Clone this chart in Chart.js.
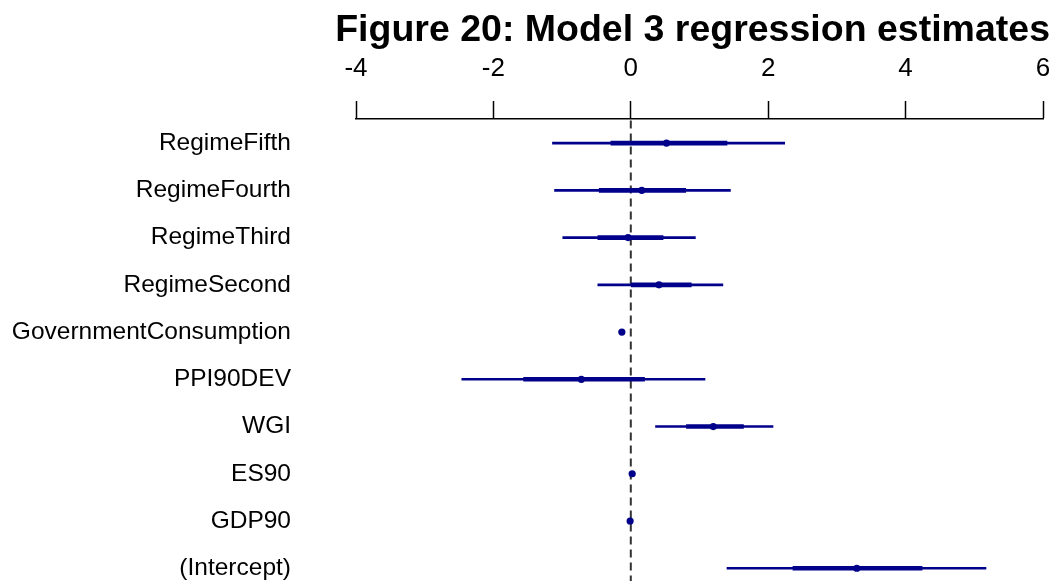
<!DOCTYPE html>
<html>
<head>
<meta charset="utf-8">
<title>Model 3 regression estimates</title>
<script src="https://cdn.jsdelivr.net/npm/chart.js@4.4.1/dist/chart.umd.min.js"></script>
<style>
  html, body { margin: 0; padding: 0; background: #fff; }
  #coefChart { display: block; }
</style>
</head>
<body>
<canvas id="coefChart" width="1053" height="585"></canvas>
<script>
// Coefficient names, top to bottom
const terms = [
  'RegimeFifth', 'RegimeFourth', 'RegimeThird', 'RegimeSecond',
  'GovernmentConsumption', 'PPI90DEV', 'WGI', 'ES90', 'GDP90', '(Intercept)'
];

// Point estimates
const estimates = [0.52, 0.16, -0.04, 0.41, -0.13, -0.72, 1.20, 0.02, -0.01, 3.29];

// Inner interval (+/- 1 s.e.)
const innerLow  = [-0.29, -0.46, -0.48, 0.00, -0.15, -1.56, 0.81, 0.01, -0.02, 2.36];
const innerHigh = [1.40, 0.80, 0.47, 0.88, -0.11, 0.20, 1.64, 0.03, 0.00, 4.24];

// Outer interval (+/- 2 s.e.)
const outerLow  = [-1.14, -1.11, -0.99, -0.48, -0.17, -2.46, 0.36, 0.00, -0.03, 1.40];
const outerHigh = [2.24, 1.45, 0.94, 1.34, -0.09, 1.08, 2.07, 0.04, 0.01, 5.17];

const xTicks = [-4, -2, 0, 2, 4, 6];

const rows = terms.map((t, i) => i + 1);
const navy = '#00008B';
const fontFamily = "'Liberation Sans', Arial, Helvetica, sans-serif";

const ctx = document.getElementById('coefChart').getContext('2d');
new Chart(ctx, {
  type: 'bar',
  data: {
    datasets: [
      {
        label: 'estimate',
        type: 'line',
        showLine: false,
        data: rows.map((r, i) => ({ x: estimates[i], y: r })),
        pointRadius: 3.6,
        pointBackgroundColor: navy,
        pointBorderColor: navy,
        pointBorderWidth: 0,
        order: 0
      },
      {
        label: 'inner',
        data: rows.map((r, i) => ({ y: r, x: [innerLow[i], innerHigh[i]] })),
        backgroundColor: navy,
        barThickness: 4,
        grouped: false,
        order: 1
      },
      {
        label: 'outer',
        data: rows.map((r, i) => ({ y: r, x: [outerLow[i], outerHigh[i]] })),
        backgroundColor: navy,
        barThickness: 2,
        grouped: false,
        order: 2
      },
      {
        label: 'zero',
        type: 'line',
        data: [{ x: 0, y: 0.52 }, { x: 0, y: 10.4 }],
        borderColor: '#333',
        borderWidth: 2,
        borderDash: [8, 5],
        pointRadius: 0,
        order: 3
      }
    ]
  },
  options: {
    indexAxis: 'y',
    responsive: false,
    maintainAspectRatio: false,
    animation: false,
    layout: { padding: { left: 0, right: 3, top: 0, bottom: 0 } },
    plugins: {
      legend: { display: false },
      tooltip: { enabled: false },
      title: {
        display: true,
        text: 'Figure 20: Model 3 regression estimates',
        align: 'end',
        color: '#000',
        font: { family: fontFamily, size: 37.5, weight: 'bold' },
        padding: { top: 8, bottom: 0 }
      }
    },
    scales: {
      x: {
        type: 'linear',
        position: 'top',
        min: -4,
        max: 6,
        afterBuildTicks: axis => { axis.ticks = xTicks.map(v => ({ value: v })); },
        afterFit: axis => {
          axis.height = 66;
          // keep the plot edge fixed, the "6" label may overhang
          axis.paddingLeft = 0;
          axis.paddingRight = 10;
        },
        border: { display: true, color: '#000', width: 1.5 },
        grid: {
          drawOnChartArea: false,
          drawTicks: true,
          tickLength: 18,
          tickColor: '#000',
          tickWidth: 1.5
        },
        ticks: {
          color: '#000',
          padding: 17,
          maxRotation: 0,
          font: { family: fontFamily, size: 26 }
        }
      },
      y: {
        type: 'linear',
        position: 'left',
        weight: 1,
        reverse: true,
        offset: false,
        min: 0.49,
        max: 10.27,
        afterBuildTicks: axis => { axis.ticks = rows.map(v => ({ value: v })); },
        afterFit: axis => {
          axis.width = 291;
          axis.paddingTop = 0;
          axis.paddingBottom = 0;
        },
        border: { display: false },
        grid: { display: false, drawTicks: false },
        ticks: {
          color: '#000',
          padding: 0,
          autoSkip: false,
          font: { family: fontFamily, size: 24.5 },
          callback: value => terms[value - 1]
        }
      },
      // empty strip between the term names and the plot
      gap: {
        type: 'linear',
        position: 'left',
        weight: 0,
        border: { display: false },
        grid: { display: false, drawTicks: false },
        ticks: { display: false },
        afterFit: axis => {
          axis.width = 65;
          axis.paddingTop = 0;
          axis.paddingBottom = 0;
        }
      }
    }
  }
});
</script>
</body>
</html>
